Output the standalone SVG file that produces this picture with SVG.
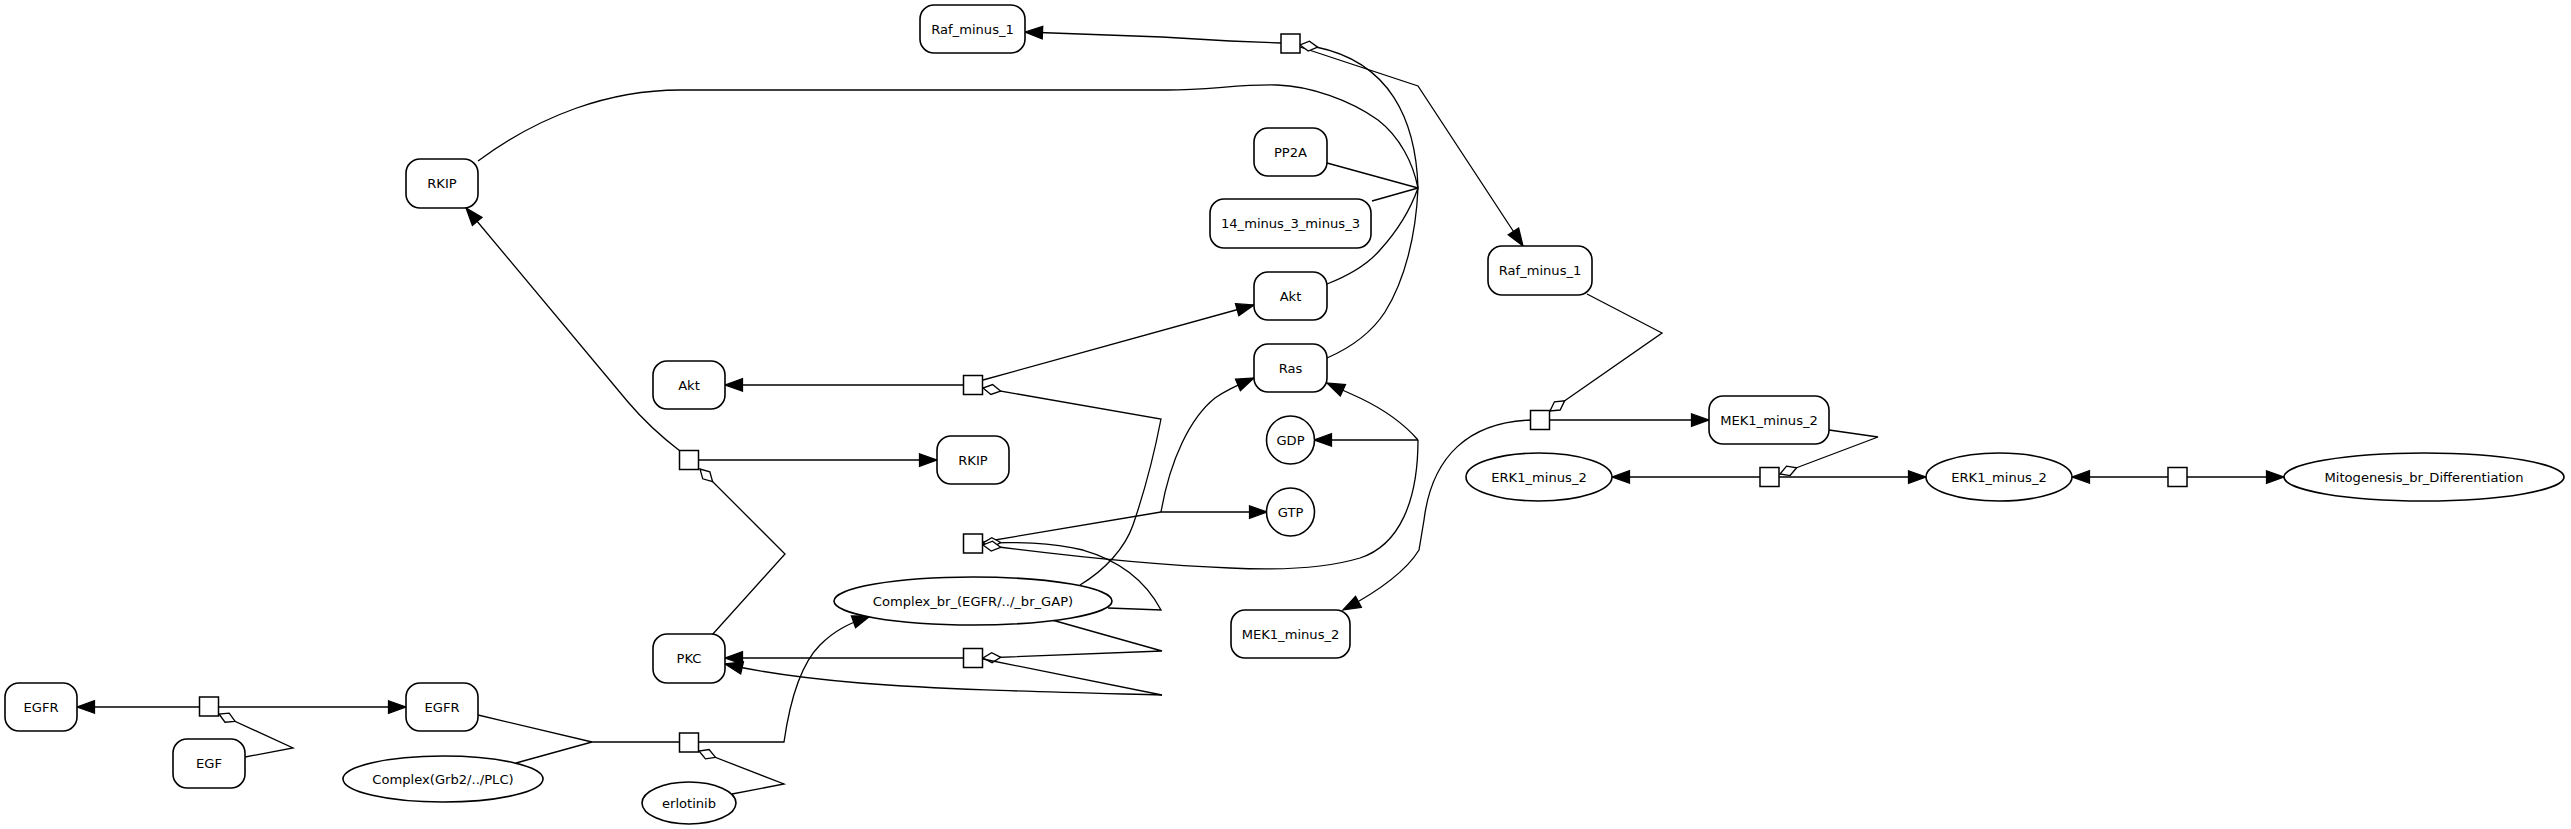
<svg xmlns="http://www.w3.org/2000/svg" width="2571" height="829" viewBox="0 0 2571 829">
<style>
.n{fill:#fff;stroke:#000;stroke-width:1.6}
.p{fill:#fff;stroke:#000;stroke-width:1.5}
.e{fill:none;stroke:#000;stroke-width:1.3}
.a{marker-end:url(#ah)}
.m{marker-end:url(#od)}
.t{font-family:"DejaVu Sans",sans-serif;font-size:13.1px;text-anchor:middle;fill:#000}
</style>
<defs>
<marker id="ah" markerUnits="userSpaceOnUse" markerWidth="20" markerHeight="20" refX="14" refY="0" viewBox="-1 -6 16 12" orient="auto" overflow="visible">
<path d="M0,-5 L14,0 L0,5 Z" fill="#000" stroke="#000" stroke-width="1"/>
</marker>
<marker id="od" markerUnits="userSpaceOnUse" markerWidth="20" markerHeight="20" refX="16" refY="0" viewBox="-1 -6 18 12" orient="auto" overflow="visible">
<path d="M0,0 L8,-4.5 L16,0 L8,4.5 Z" fill="#fff" stroke="#000" stroke-width="1.2"/>
</marker>
</defs>
<rect width="2571" height="829" fill="#fff"/>
<g id="connectors">
<path class="e a" d="M1281,43 L1230,41 L1162,37 L1025,32"/>
<path class="e a" d="M1300,47 L1418,86 L1523,246"/>
<path class="e" d="M478,161 C540,115 610,90 680,90 L1167,90 C1210,90 1240,84 1277,85 C1310,86 1350,100 1378,120 C1400,137 1413,163 1418,188"/>
<path class="e" d="M1327,163 L1418,188"/>
<path class="e" d="M1372,201 L1418,188"/>
<path class="e" d="M1327,284 C1350,275 1368,264 1380,250 C1400,228 1412,205 1418,188"/>
<path class="e" d="M1327,358 C1350,348 1370,335 1385,312 C1405,280 1416,235 1418,188"/>
<path class="e m" d="M1418,188 C1416,120 1390,62 1316,47 L1300,45"/>
<path class="e m" d="M1587,294 L1662,333 L1550,411"/>
<path class="e a" d="M1549,420 L1709,420"/>
<path class="e a" d="M1531,420 C1470,422 1432,455 1424,520 L1419,550 C1405,573 1377,592 1343,610"/>
<path class="e m" d="M1829,430 L1878,437 L1780,474"/>
<path class="e a" d="M1760,477 L1612,477"/>
<path class="e a" d="M1779,477 L1926,477"/>
<path class="e a" d="M2168,477 L2072,477"/>
<path class="e a" d="M2187,477 L2284,477"/>
<path class="e a" d="M983,380 L1254,305"/>
<path class="e a" d="M963,385 L725,385"/>
<path class="e m" d="M1080,585 C1105,570 1125,548 1133,525 C1145,490 1155,450 1161,419 L983,388"/>
<path class="e a" d="M680,451 Q650,428 628,402 L466,208"/>
<path class="e a" d="M699,460 L937,460"/>
<path class="e m" d="M712,635 L785,554 L700,469"/>
<path class="e a" d="M983,542 L1161,512 L1267,512"/>
<path class="e a" d="M1161,512 C1170,460 1190,418 1215,398 C1228,389 1240,384 1254,378"/>
<path class="e m" d="M1108,608 L1161,610 C1148,585 1125,562 1083,550 C1050,542 1015,542 983,543"/>
<path class="e m" d="M1418,440 C1418,500 1400,545 1360,558 C1320,570 1270,570 1230,568 C1150,565 1060,555 983,545"/>
<path class="e a" d="M1418,440 L1314,440"/>
<path class="e a" d="M1418,440 C1405,425 1385,410 1360,398 L1327,383"/>
<path class="e a" d="M963,658 L725,658"/>
<path class="e m" d="M1052,620 L1162,651 L983,658"/>
<path class="e" d="M983,659 L1162,695"/>
<path class="e a" d="M1162,695 C1050,692 950,690 860,683 C800,678 760,672 725,664"/>
<path class="e a" d="M200,707 L77,707"/>
<path class="e a" d="M218,707 L406,707"/>
<path class="e m" d="M245,757 L293,748 L219,714"/>
<path class="e" d="M478,715 L592,742 L680,742"/>
<path class="e" d="M516,763 L592,742"/>
<path class="e a" d="M698,742 L784,742 C790,700 800,665 820,645 C835,630 850,623 870,616"/>
<path class="e m" d="M732,794 L784,784 L699,751"/>
</g>
<g id="n_raf1_top"><rect class="n" x="920" y="5" width="105" height="48" rx="14"/><text class="t" x="972.5" y="33.7">Raf_minus_1</text></g>
<g id="n_rkip_left"><rect class="n" x="406" y="159" width="72" height="49" rx="14"/><text class="t" x="442" y="188.2">RKIP</text></g>
<g id="n_pp2a"><rect class="n" x="1254" y="128" width="73" height="48" rx="14"/><text class="t" x="1290.5" y="156.7">PP2A</text></g>
<g id="n_1433"><rect class="n" x="1210" y="199" width="161" height="49" rx="14"/><text class="t" x="1290.5" y="228.2">14_minus_3_minus_3</text></g>
<g id="n_raf1_right"><rect class="n" x="1488" y="246" width="104" height="49" rx="14"/><text class="t" x="1540" y="275.2">Raf_minus_1</text></g>
<g id="n_akt_right"><rect class="n" x="1254" y="272" width="73" height="48" rx="14"/><text class="t" x="1290.5" y="300.7">Akt</text></g>
<g id="n_ras"><rect class="n" x="1254" y="344" width="73" height="48" rx="14"/><text class="t" x="1290.5" y="372.7">Ras</text></g>
<g id="n_akt_left"><rect class="n" x="653" y="361" width="72" height="48" rx="14"/><text class="t" x="689" y="389.7">Akt</text></g>
<g id="n_rkip_right"><rect class="n" x="937" y="436" width="72" height="48" rx="14"/><text class="t" x="973" y="464.7">RKIP</text></g>
<g id="n_mek_right"><rect class="n" x="1709" y="396" width="120" height="48" rx="14"/><text class="t" x="1769" y="424.7">MEK1_minus_2</text></g>
<g id="n_mek_bottom"><rect class="n" x="1231" y="610" width="119" height="48" rx="14"/><text class="t" x="1290.5" y="638.7">MEK1_minus_2</text></g>
<g id="n_pkc"><rect class="n" x="653" y="634" width="72" height="49" rx="14"/><text class="t" x="689" y="663.2">PKC</text></g>
<g id="n_egfr_left"><rect class="n" x="5" y="683" width="72" height="48" rx="14"/><text class="t" x="41" y="711.7">EGFR</text></g>
<g id="n_egfr_right"><rect class="n" x="406" y="683" width="72" height="48" rx="14"/><text class="t" x="442" y="711.7">EGFR</text></g>
<g id="n_egf"><rect class="n" x="173" y="739" width="72" height="49" rx="14"/><text class="t" x="209" y="768.2">EGF</text></g>
<g id="n_complex_gap"><ellipse class="n" cx="973" cy="601" rx="139" ry="24"/><text class="t" x="973" y="605.7">Complex_br_(EGFR/../_br_GAP)</text></g>
<g id="n_gdp"><ellipse class="n" cx="1290.5" cy="440" rx="24" ry="24"/><text class="t" x="1290.5" y="444.7">GDP</text></g>
<g id="n_gtp"><ellipse class="n" cx="1290.5" cy="512" rx="24" ry="24"/><text class="t" x="1290.5" y="516.7">GTP</text></g>
<g id="n_erk_left"><ellipse class="n" cx="1539" cy="477" rx="73" ry="24"/><text class="t" x="1539" y="481.7">ERK1_minus_2</text></g>
<g id="n_erk_right"><ellipse class="n" cx="1999" cy="477" rx="73" ry="24"/><text class="t" x="1999" y="481.7">ERK1_minus_2</text></g>
<g id="n_mito"><ellipse class="n" cx="2424" cy="477" rx="140" ry="24"/><text class="t" x="2424" y="481.7">Mitogenesis_br_Differentiation</text></g>
<g id="n_complex_plc"><ellipse class="n" cx="443" cy="779" rx="100" ry="23"/><text class="t" x="443" y="783.7">Complex(Grb2/../PLC)</text></g>
<g id="n_erlotinib"><ellipse class="n" cx="689" cy="803" rx="47" ry="21"/><text class="t" x="689" y="807.7">erlotinib</text></g>
<g id="p1"><rect class="p" x="1281" y="34" width="19" height="19"/></g>
<g id="p2"><rect class="p" x="963.5" y="375.5" width="19" height="19"/></g>
<g id="p3"><rect class="p" x="679.5" y="450.5" width="19" height="19"/></g>
<g id="p4"><rect class="p" x="963.5" y="534" width="19" height="19"/></g>
<g id="p5"><rect class="p" x="963.5" y="648.5" width="19" height="19"/></g>
<g id="p6"><rect class="p" x="199.5" y="697" width="19" height="19"/></g>
<g id="p7"><rect class="p" x="679.5" y="733" width="19" height="19"/></g>
<g id="p8"><rect class="p" x="1530.5" y="410.5" width="19" height="19"/></g>
<g id="p9"><rect class="p" x="1760" y="467.5" width="19" height="19"/></g>
<g id="p10"><rect class="p" x="2168" y="467.5" width="19" height="19"/></g>
</svg>
